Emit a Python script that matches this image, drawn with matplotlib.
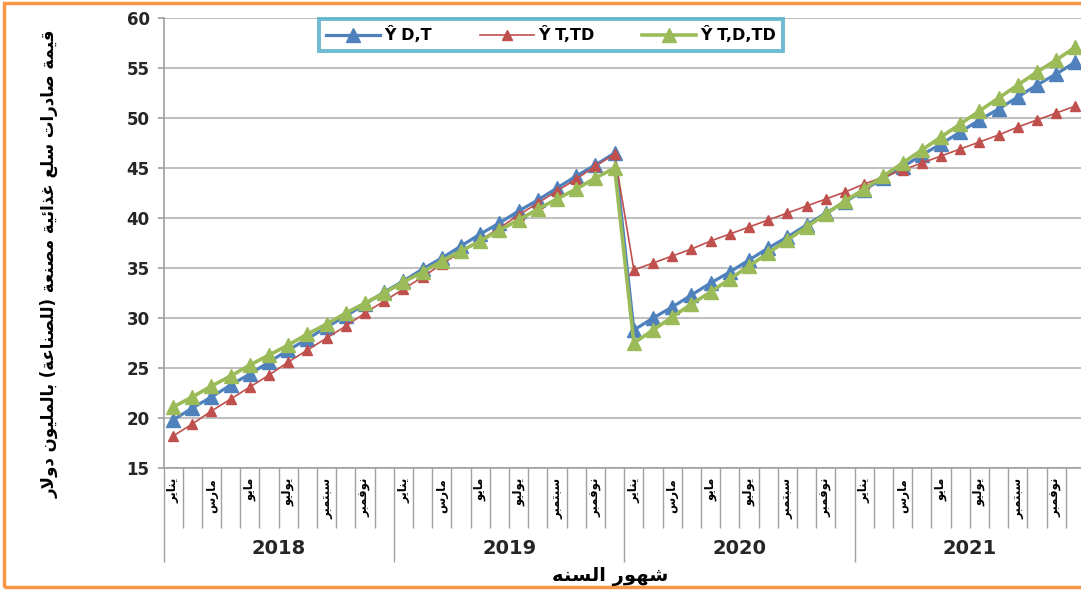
import matplotlib
import numpy as np

matplotlib.use("Agg")
import matplotlib.pyplot as plt
from matplotlib.patches import Rectangle
from matplotlib.transforms import blended_transform_factory

# ---- data ----
years = ["2018", "2019", "2020", "2021"]
month_labels = ["يناير", "مارس", "مايو", "يوليو", "سبتمبر", "نوفمبر"]

y_dt = [19.8, 21.0, 22.1, 23.3, 24.4, 25.6, 26.8, 27.9, 29.1, 30.2, 31.4, 32.6,
        33.7, 34.9, 36.0, 37.2, 38.4, 39.5, 40.7, 41.8, 43.0, 44.2, 45.3, 46.5,
        28.8, 30.0, 31.1, 32.3, 33.5, 34.6, 35.8, 37.0, 38.1, 39.3, 40.5, 41.6,
        42.8, 44.0, 45.1, 46.3, 47.4, 48.6, 49.8, 50.9, 52.1, 53.3, 54.4, 55.6]
y_t_td = [18.2, 19.4, 20.7, 21.9, 23.1, 24.3, 25.6, 26.8, 28.0, 29.2, 30.5, 31.7,
          32.9, 34.1, 35.4, 36.6, 37.8, 39.0, 40.3, 41.5, 42.7, 43.9, 45.2, 46.4,
          34.8, 35.5, 36.2, 36.9, 37.7, 38.4, 39.1, 39.8, 40.5, 41.2, 41.9, 42.6,
          43.4, 44.1, 44.8, 45.5, 46.2, 46.9, 47.6, 48.3, 49.1, 49.8, 50.5, 51.2]
y_t_d_td = [21.1, 22.1, 23.2, 24.2, 25.3, 26.3, 27.3, 28.4, 29.4, 30.5, 31.5, 32.5,
            33.6, 34.6, 35.7, 36.7, 37.7, 38.8, 39.8, 40.9, 41.9, 42.9, 44.0, 45.0,
            27.5, 28.8, 30.1, 31.4, 32.6, 33.9, 35.2, 36.5, 37.8, 39.1, 40.4, 41.7,
            42.9, 44.2, 45.5, 46.8, 48.1, 49.4, 50.7, 52.0, 53.3, 54.6, 55.8, 57.1]

y_label = "قيمة صادرات سلع غذائية مصنعة (للصناعة) بالمليون دولار"
x_label = "شهور السنه"


# matplotlib has no Arabic shaping, so join letters by hand
DUAL = set("بتثجحخسشصضطظعغفقكلمنهيئ")
FORMS = {
    "ا": 0xFE8D, "ب": 0xFE8F, "ة": 0xFE93, "ت": 0xFE95, "د": 0xFEA9,
    "ذ": 0xFEAB, "ر": 0xFEAD, "س": 0xFEB1, "ش": 0xFEB5, "ص": 0xFEB9,
    "ع": 0xFEC9, "غ": 0xFECD, "ف": 0xFED1, "ق": 0xFED5, "ل": 0xFEDD,
    "م": 0xFEE1, "ن": 0xFEE5, "ه": 0xFEE9, "و": 0xFEED, "ي": 0xFEF1,
    "ئ": 0xFE89,
}


def shape_ar(text):
    out = []
    i = 0
    n = len(text)
    while i < n:
        c = text[i]
        prev = i > 0 and text[i - 1] in DUAL
        if c == "ل" and i + 1 < n and text[i + 1] == "ا":
            out.append(chr(0xFEFC if prev else 0xFEFB))
            i += 2
            continue
        if c in FORMS:
            nxt = c in DUAL and i + 1 < n and text[i + 1] in FORMS
            off = 3 if (prev and nxt) else 2 if nxt else 1 if prev else 0
            out.append(chr(FORMS[c] + off))
        else:
            out.append({"(": ")", ")": "("}.get(c, c))
        i += 1
    return "".join(reversed(out))


W, H = 1081, 592
fig = plt.figure(figsize=(W / 100, H / 100), dpi=100)
ax = fig.add_axes([163.5 / W, 1 - 468 / H, (1085 - 163.5) / W, 450 / H])

x = np.arange(len(y_dt))
ax.plot(x, y_dt, color="#4F81BD", lw=2.3, marker="^", ms=10, label="Ŷ D,T")
ax.plot(x, y_t_td, color="#C0504D", lw=1.2, marker="^", ms=6.5, label="Ŷ T,TD")
ax.plot(x, y_t_d_td, color="#9BBB59", lw=2.6, marker="^", ms=10.5, label="Ŷ T,D,TD")

ax.set_xlim(-0.5, len(x) - 0.5)
ax.set_ylim(15, 60)
ax.set_yticks(np.arange(15, 61, 5))
ax.yaxis.grid(True, color="#C0C0C0", lw=1.5)
ax.set_axisbelow(True)
for s in ["top", "right"]:
    ax.spines[s].set_visible(False)
for s in ["left", "bottom"]:
    ax.spines[s].set_color("#A0A0A0")
    ax.spines[s].set_linewidth(1.2)

ax.tick_params(axis="y", length=4, width=1.2, color="#A0A0A0", pad=6,
               labelsize=12)
for t in ax.get_yticklabels():
    t.set_fontweight("bold")
    t.set_color("#262626")

# x axis: long ticks at year boundaries, short ticks between months
ax.set_xticks(np.arange(-0.5, len(x), 12))
ax.set_xticks(np.arange(-0.5, len(x), 1), minor=True)
ax.set_xticklabels([])
ax.tick_params(axis="x", which="major", length=68, width=1, color="#A0A0A0")
ax.tick_params(axis="x", which="minor", length=43, width=1, color="#A0A0A0")

trans = blended_transform_factory(ax.transData, ax.transAxes)
for yi, year in enumerate(years):
    for mi, m in enumerate(month_labels):
        ax.text(yi * 12 + mi * 2, -0.022, shape_ar(m), transform=trans,
                rotation=90, ha="center", va="top", fontsize=8.5,
                fontweight="bold", family="DejaVu Sans")
    ax.text(yi * 12 + 5.5, -0.18, year, transform=trans, ha="center",
            va="center", fontsize=14, fontweight="bold",
            family="DejaVu Sans", color="#262626")

fig.text(610 / W, 1 - 576 / H, shape_ar(x_label), ha="center", va="center",
         fontsize=14, fontweight="bold", family="DejaVu Sans")
fig.text(50 / W, 1 - 264 / H, shape_ar(y_label), rotation=90, ha="center",
         va="center", fontsize=12, fontweight="bold", family="DejaVu Sans")

leg = ax.legend(loc="center", bbox_to_anchor=(551 / W, 1 - 35 / H),
                bbox_transform=fig.transFigure, ncol=3, numpoints=1,
                frameon=True, fancybox=False, handlelength=3.4,
                columnspacing=3.0, handletextpad=0.25, borderpad=0.45,
                borderaxespad=0, handleheight=0.7,
                prop={"family": "DejaVu Sans", "weight": "bold", "size": 11.5})
leg.get_frame().set_edgecolor("#4BACC6")
leg.get_frame().set_linewidth(2.8)

fig.patches.append(Rectangle((4 / W, 1 - 587 / H), 1.1, 584 / H,
                             transform=fig.transFigure, fill=False,
                             edgecolor="#F79646", lw=2.5))

fig.savefig("out.png", dpi=100)
plt.close(fig)
